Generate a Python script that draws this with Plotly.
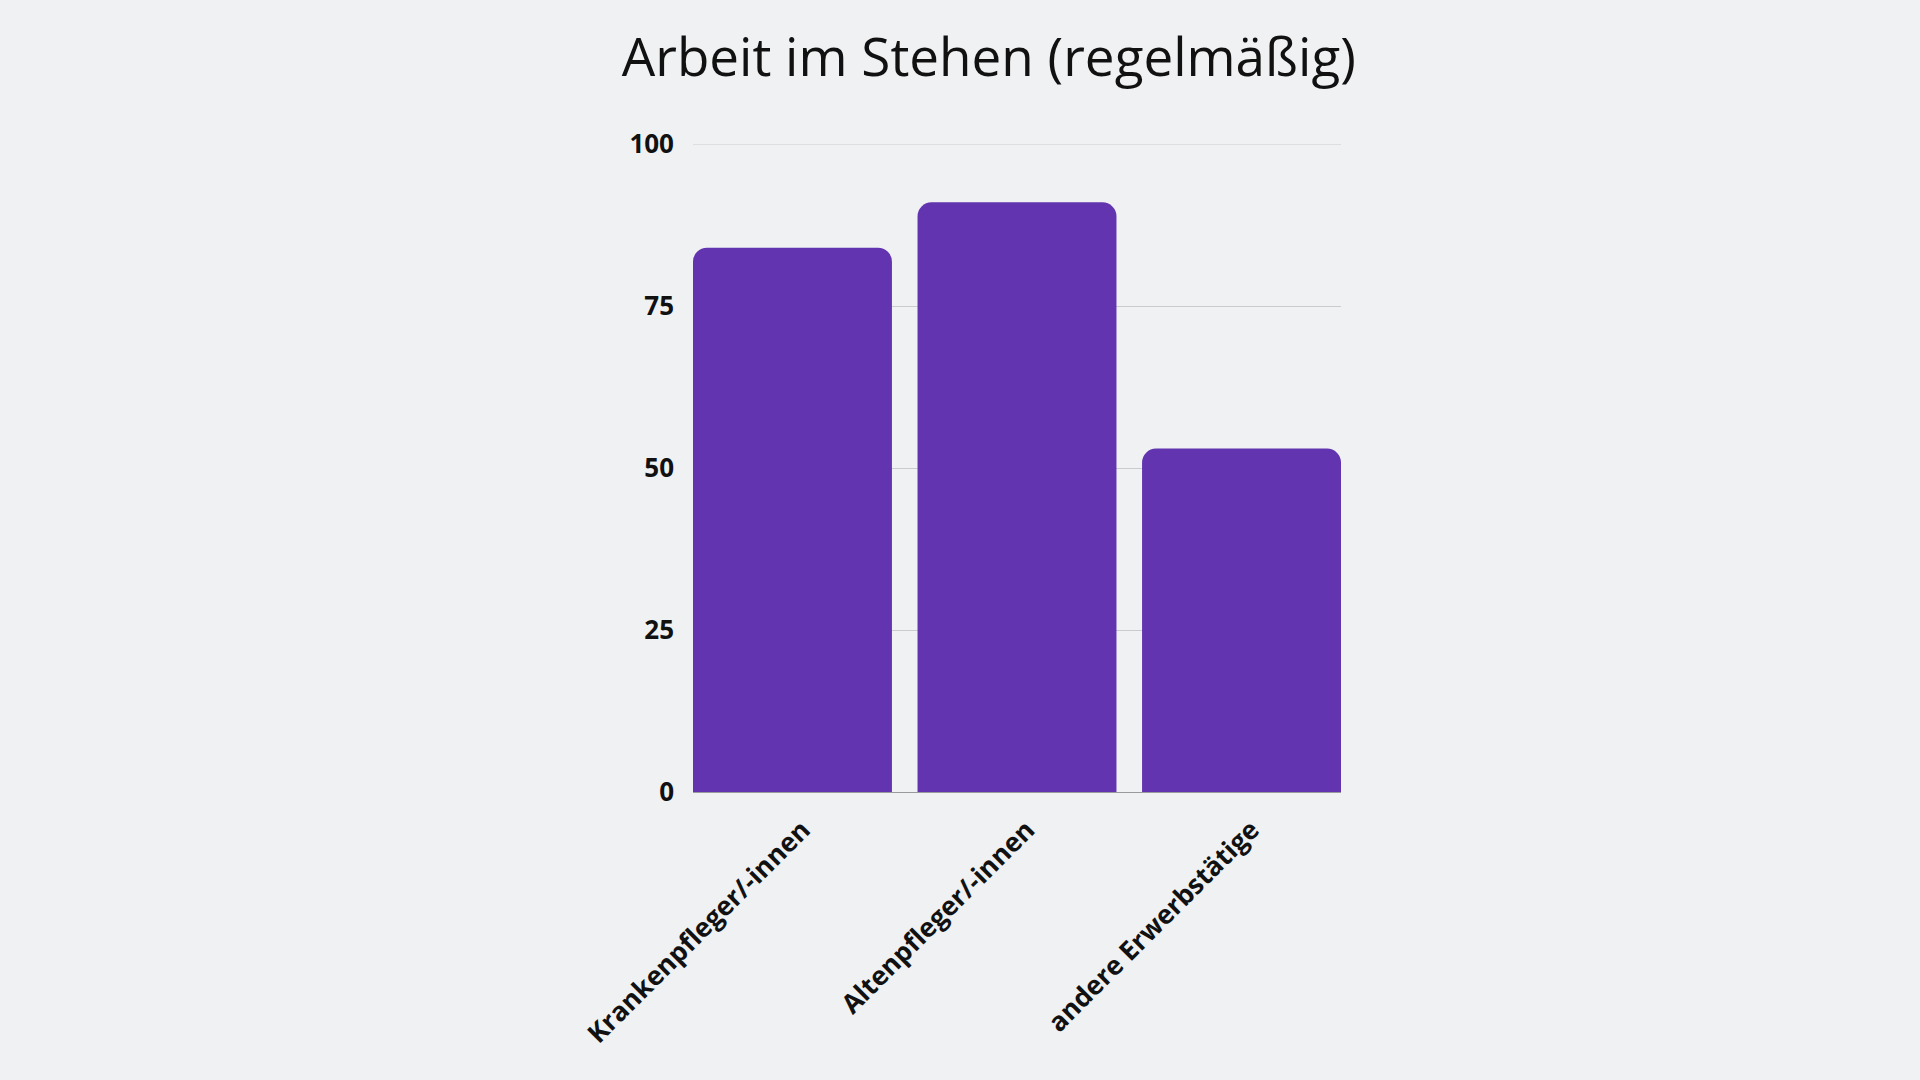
import plotly.graph_objects as go

categories = ["Krankenpfleger/-innen", "Altenpfleger/-innen", "andere Erwerbstätige"]
values = [84, 91, 53]
y_ticks = [0, 25, 50, 75, 100]

BG = "#eff1f3"
BAR = "#6234b0"
GRID = "#c9cbce"
gap = 0.114

fig = go.Figure(
    go.Bar(
        x=list(range(len(categories))),
        y=values,
        marker=dict(color=BAR, cornerradius=14, line=dict(width=0)),
        hoverinfo="skip",
    )
)

fig.update_layout(
    width=1920,
    height=1080,
    paper_bgcolor=BG,
    plot_bgcolor=BG,
    bargap=gap,
    showlegend=False,
    margin=dict(l=693, r=579, t=144, b=288, pad=0),
    title=dict(
        text="Arbeit im Stehen (regelmäßig)",
        font=dict(family="Open Sans", size=53, color="#111111"),
        x=0.515,
        xref="container",
        xanchor="center",
        y=1 - 57.5 / 1080,
        yref="container",
        yanchor="middle",
    ),
)

# top gridline (plotly omits grid lines lying on the plot edge)
fig.add_shape(
    type="line", xref="paper", x0=0, x1=1, yref="y", y0=max(y_ticks), y1=max(y_ticks),
    line=dict(color=GRID, width=1), layer="below",
)

fig.update_xaxes(
    tickmode="array",
    tickvals=list(range(len(categories))),
    ticktext=categories,
    tickangle=-45,
    tickfont=dict(family="Open Sans", size=26.5, color="#111111", weight="bold"),
    range=[-0.5 + gap / 2, len(categories) - 0.5 - gap / 2],
    showgrid=False,
    zeroline=False,
    showline=False,
    ticks="",
    ticklabelstandoff=16,
    ticklabelshift=10,
)

fig.update_yaxes(
    range=[0, 100],
    tickvals=y_ticks,
    tickfont=dict(family="Open Sans", size=26, color="#111111", weight="bold"),
    showgrid=True,
    gridcolor=GRID,
    gridwidth=1,
    zeroline=True,
    zerolinecolor="#9a9a9a",
    zerolinewidth=1,
    showline=False,
    ticks="",
    ticklabelstandoff=18,
)

fig.write_html("out.html")
